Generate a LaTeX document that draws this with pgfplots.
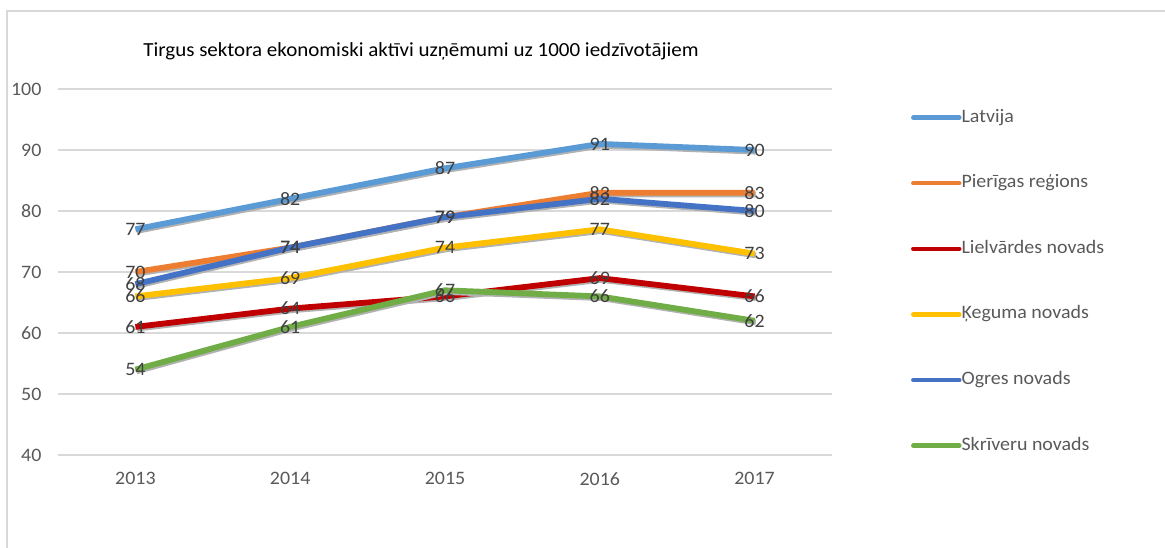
\documentclass[border=0pt]{standalone}
\usepackage{fontspec}
\setmainfont[FakeStretch=1.05]{Carlito}
\usepackage{pgfplots}
\usepackage{pgfplotstable}
\pgfplotsset{compat=1.18}
\definecolor{cLat}{HTML}{5B9BD5}
\definecolor{cPie}{HTML}{ED7D31}
\definecolor{cLie}{HTML}{C00000}
\definecolor{cKeg}{HTML}{FFC000}
\definecolor{cOgr}{HTML}{4472C4}
\definecolor{cSkr}{HTML}{70AD47}
\definecolor{tgray}{HTML}{595959}
\definecolor{lgray}{HTML}{404040}
\definecolor{gridc}{HTML}{D9D9D9}
\pgfplotstableread{
year Latvija Pieriga Lielvarde Kegums Ogre Skriveri
2013 77 70 61 66 68 54
2014 82 74 64 69 74 61
2015 87 79 66 74 79 67
2016 91 83 69 77 82 66
2017 90 83 66 73 80 62
}\data
\begin{document}
\begin{tikzpicture}
\useasboundingbox (0,0) rectangle (1165pt,548pt);
\draw[gridc, line width=1.5pt] (7pt,0pt) -- (7pt,537pt) -- (1165pt,537pt);
\begin{axis}[
  at={(58pt,93pt)}, anchor=south west,
  width=774pt, height=366pt, scale only axis,
  xmin=2012.5, xmax=2017.5, ymin=40, ymax=100,
  xtick={2013,2014,2015,2016,2017}, ytick={40,50,60,70,80,90,100},
  /pgf/number format/assume math mode=true,
  /pgf/number format/set thousands separator={},
  axis line style={draw=none},
  major tick length=0pt,
  xmajorgrids=false, ymajorgrids=true, major grid style={draw=gridc, line width=1.3pt},
  tick label style={font=\fontsize{19}{23}\selectfont, text=tgray},
  yticklabel style={xshift=-13pt},
  xticklabel style={yshift=-14pt},
  title={Tirgus sektora ekonomiski aktīvi uzņēmumi uz 1000 iedzīvotājiem},
  title style={at={(axis description cs:0.469,1.085)}, anchor=center, font=\fontsize{20}{24}\selectfont, text=black},
  legend style={at={(axis description cs:1.098,0.951)}, anchor=north west, draw=none, fill=none,
    font=\fontsize{19}{23}\selectfont, text=tgray, row sep=48.6pt,
    nodes={inner sep=0pt, text height=13pt, text depth=4pt},
    /tikz/every even column/.append style={column sep=3pt}},
  legend cell align=left,
  legend image code/.code={\draw[#1, line width=4.5pt, line cap=round] (0pt,0pt) -- (46pt,0pt);},
  shl/.style={line width=5.8pt, line join=round,
    preaction={draw=black!30, line width=5.8pt, transform canvas={xshift=1.2pt, yshift=-1.7pt}}},
  clip=false,
]
\addlegendimage{cLat}
\addlegendentry{Latvija}
\addlegendimage{cPie}
\addlegendentry{Pierīgas reģions}
\addlegendimage{cLie}
\addlegendentry{Lielvārdes novads}
\addlegendimage{cKeg}
\addlegendentry{Ķeguma novads}
\addlegendimage{cOgr}
\addlegendentry{Ogres novads}
\addlegendimage{cSkr}
\addlegendentry{Skrīveru novads}
\addplot[cLat, shl, forget plot] table[x=year, y=Latvija] {\data};
\addplot[cPie, shl, forget plot] table[x=year, y=Pieriga] {\data};
\addplot[cLie, shl, forget plot] table[x=year, y=Lielvarde] {\data};
\addplot[cKeg, shl, forget plot] table[x=year, y=Kegums] {\data};
\addplot[cOgr, shl, forget plot] table[x=year, y=Ogre] {\data};
\addplot[cSkr, shl, forget plot] table[x=year, y=Skriveri] {\data};
\pgfplotsset{every node near coord/.style={anchor=center, font=\fontsize{19}{23}\selectfont, text=lgray, inner sep=0pt}}
\foreach \s in {Latvija,Pieriga,Lielvarde,Kegums,Ogre,Skriveri}{
  \addplot[draw=none, forget plot, nodes near coords, mark=none] table[x=year, y=\s] {\data};
}
\end{axis}
\end{tikzpicture}
\end{document}
